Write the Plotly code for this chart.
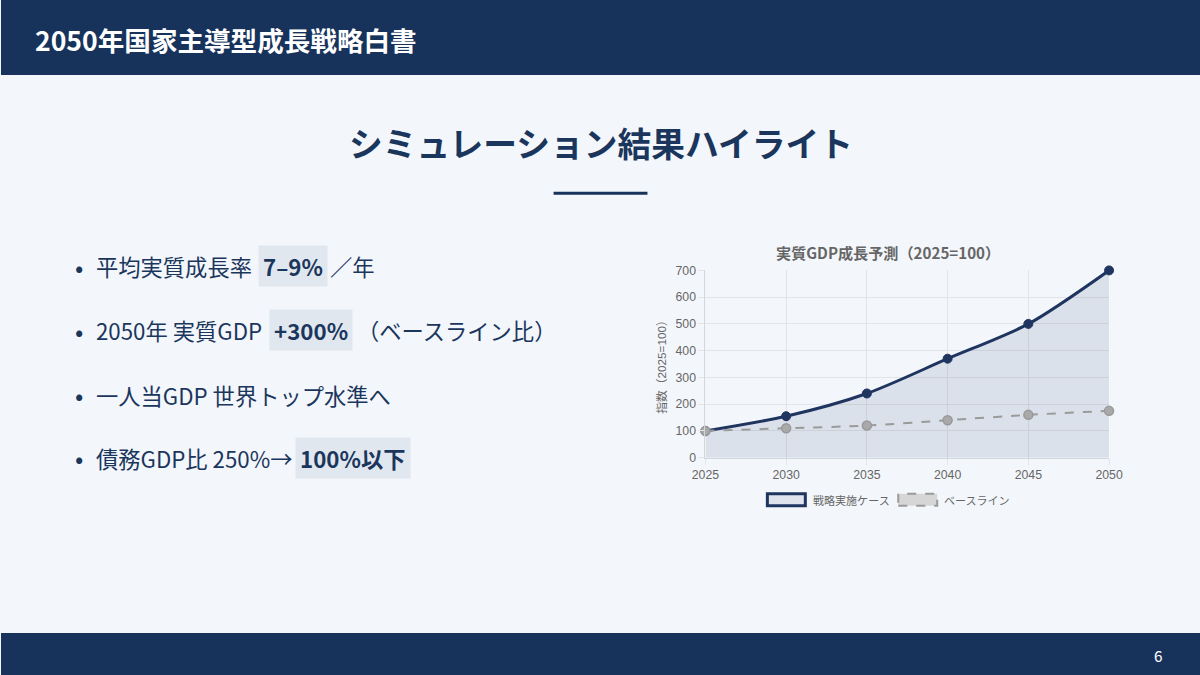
import plotly.graph_objects as go

# données du graphique
annees = [2025, 2030, 2035, 2040, 2045, 2050]
strategie = [100, 155, 240, 370, 500, 700]
base = [100, 110, 120, 140, 160, 175]
y_ticks = [0, 100, 200, 300, 400, 500, 600, 700]

titre_page = "2050年国家主導型成長戦略白書"
titre_section = "シミュレーション結果ハイライト"
titre_graph = "実質GDP成長予測（2025=100）"
titre_axe_y = "指数（2025=100）"
noms_series = ["戦略実施ケース", "ベースライン"]

# lignes de texte : (texte avant, texte en surbrillance, texte après)
puces = [
    ("平均実質成長率", "7–9%", "／年"),
    ("2050年 実質GDP", "+300%", "（ベースライン比）"),
    ("一人当GDP 世界トップ水準へ", "", ""),
    ("債務GDP比 250%→", "100%以下", ""),
]

W, H = 1200, 675
S = 1.0225  # la capture réduit la page d'environ 2 % autour du centre, on compense
NAVY = "#17335c"
TEXTE = "#1b365d"
FOND = "#f3f7fb"
SURB = "#e1e7ef"
JP = "Noto Sans CJK JP"


def px(x):
    return x / W


def py(y):
    return 1 - y / H


def f(taille):
    return taille * S


fig = go.Figure()

fig.add_trace(go.Scatter(
    x=annees, y=strategie, name=noms_series[0], mode="lines+markers",
    line=dict(color="#1f3560", width=3, shape="spline", smoothing=0.8),
    marker=dict(size=9, color="#1f3560", line=dict(color="#1f3560", width=1)),
    fill="tozeroy", fillcolor="rgba(31,53,96,0.11)", cliponaxis=False,
))
fig.add_trace(go.Scatter(
    x=annees, y=base, name=noms_series[1], mode="lines+markers",
    line=dict(color="#9a9a9a", width=2, dash="dash", shape="spline", smoothing=0.8),
    marker=dict(size=9, color="#a9a9a9", line=dict(color="#999999", width=1.5)),
    cliponaxis=False,
))

shapes = [
    dict(type="rect", xref="paper", yref="paper", x0=0, x1=1, y0=py(76), y1=1,
         fillcolor=NAVY, line_width=0, layer="below"),
    dict(type="rect", xref="paper", yref="paper", x0=0, x1=1, y0=0, y1=py(633),
         fillcolor=NAVY, line_width=0, layer="below"),
    dict(type="line", xref="paper", yref="paper", x0=px(553), x1=px(647), y0=py(194), y1=py(194),
         line=dict(color=NAVY, width=3)),
    # légende dessinée à la main
    dict(type="rect", xref="paper", yref="paper", x0=px(767), x1=px(805), y0=py(506), y1=py(494),
         fillcolor="#dfe4ec", line=dict(color="#1f3560", width=3)),
    dict(type="rect", xref="paper", yref="paper", x0=px(898), x1=px(937), y0=py(506), y1=py(494),
         fillcolor="#d6d6d6", line=dict(color="#9a9a9a", width=2, dash="dash")),
]

annotations = [
    dict(text=f"<b>{titre_page}</b>", x=px(32), y=py(40), xref="paper", yref="paper",
         xanchor="left", yanchor="middle", showarrow=False,
         font=dict(family=JP, size=f(26), color="white")),
    dict(text=f"<b>{titre_section}</b>", x=0.5, y=py(143), xref="paper", yref="paper",
         xanchor="center", yanchor="middle", showarrow=False,
         font=dict(family=JP, size=f(33), color=TEXTE)),
    dict(text="6", x=px(1158), y=py(655), xref="paper", yref="paper",
         xanchor="center", yanchor="middle", showarrow=False,
         font=dict(family=JP, size=f(15), color="white")),
    dict(text=f"<b>{titre_graph}</b>", x=px(888), y=py(253), xref="paper", yref="paper",
         xanchor="center", yanchor="middle", showarrow=False,
         font=dict(family=JP, size=f(14.8), color="#666666")),
    dict(text=noms_series[0], x=px(811), y=py(500), xref="paper", yref="paper",
         xanchor="left", yanchor="middle", showarrow=False,
         font=dict(family=JP, size=f(10.8), color="#666666")),
    dict(text=noms_series[1], x=px(942), y=py(500), xref="paper", yref="paper",
         xanchor="left", yanchor="middle", showarrow=False,
         font=dict(family=JP, size=f(10.8), color="#666666")),
]

lignes_y = [267, 331, 395, 458]
x_surb = [257, 268, None, 294]
x_apres = [327, 354, None, None]
for (avant, surb, apres), yy, xs, xa in zip(puces, lignes_y, x_surb, x_apres):
    annotations.append(dict(text="•", x=px(72), y=py(yy), xref="paper", yref="paper",
                            xanchor="left", yanchor="middle", showarrow=False,
                            font=dict(family=JP, size=f(24), color=TEXTE)))
    annotations.append(dict(text=avant, x=px(93), y=py(yy), xref="paper", yref="paper",
                            xanchor="left", yanchor="middle", showarrow=False,
                            font=dict(family=JP, size=f(21.8), color=TEXTE)))
    if surb:
        annotations.append(dict(text=f"<b>{surb}</b>", x=px(xs), y=py(yy), xref="paper", yref="paper",
                                xanchor="left", yanchor="middle", showarrow=False,
                                bgcolor=SURB, borderpad=f(4),
                                font=dict(family=JP, size=f(21.8), color=TEXTE)))
    if apres:
        annotations.append(dict(text=apres, x=px(xa), y=py(yy), xref="paper", yref="paper",
                                xanchor="left", yanchor="middle", showarrow=False,
                                font=dict(family=JP, size=f(21.8), color=TEXTE)))

axe_police = dict(family="Liberation Sans, Arial", size=f(12), color="#666666")
fig.update_layout(
    width=round(W * S), height=round(H * S), margin=dict(l=0, r=0, t=0, b=0),
    paper_bgcolor=FOND, plot_bgcolor=FOND, showlegend=False,
    shapes=shapes, annotations=annotations,
    xaxis=dict(domain=[px(705), px(1109)], range=[2025, 2050], tickvals=annees,
               showgrid=True, gridcolor="#e2e4e8", zeroline=False,
               showline=True, linecolor="#d4d6da", ticks="outside", ticklen=6,
               tickcolor="#e2e4e8", tickfont=axe_police, fixedrange=True),
    yaxis=dict(domain=[py(458), py(271)], range=[0, 700], tickvals=y_ticks,
               showgrid=True, gridcolor="#e2e4e8", zeroline=False,
               showline=True, linecolor="#d4d6da", ticks="outside", ticklen=6,
               tickcolor="#e2e4e8", tickfont=axe_police, fixedrange=True,
               title=dict(text=titre_axe_y, standoff=6,
                          font=dict(family="Liberation Sans, " + JP, size=f(11.5), color="#666666"))),
)

# décaler la figure pour qu'elle couvre toute la capture
fig.write_html("out.html", config={"displayModeBar": False},
               post_script="document.body.style.margin='-7.6px 0 0 -13.5px';"
                           "document.body.style.overflow='hidden';"
                           "document.body.style.background='#f3f7fb';")
